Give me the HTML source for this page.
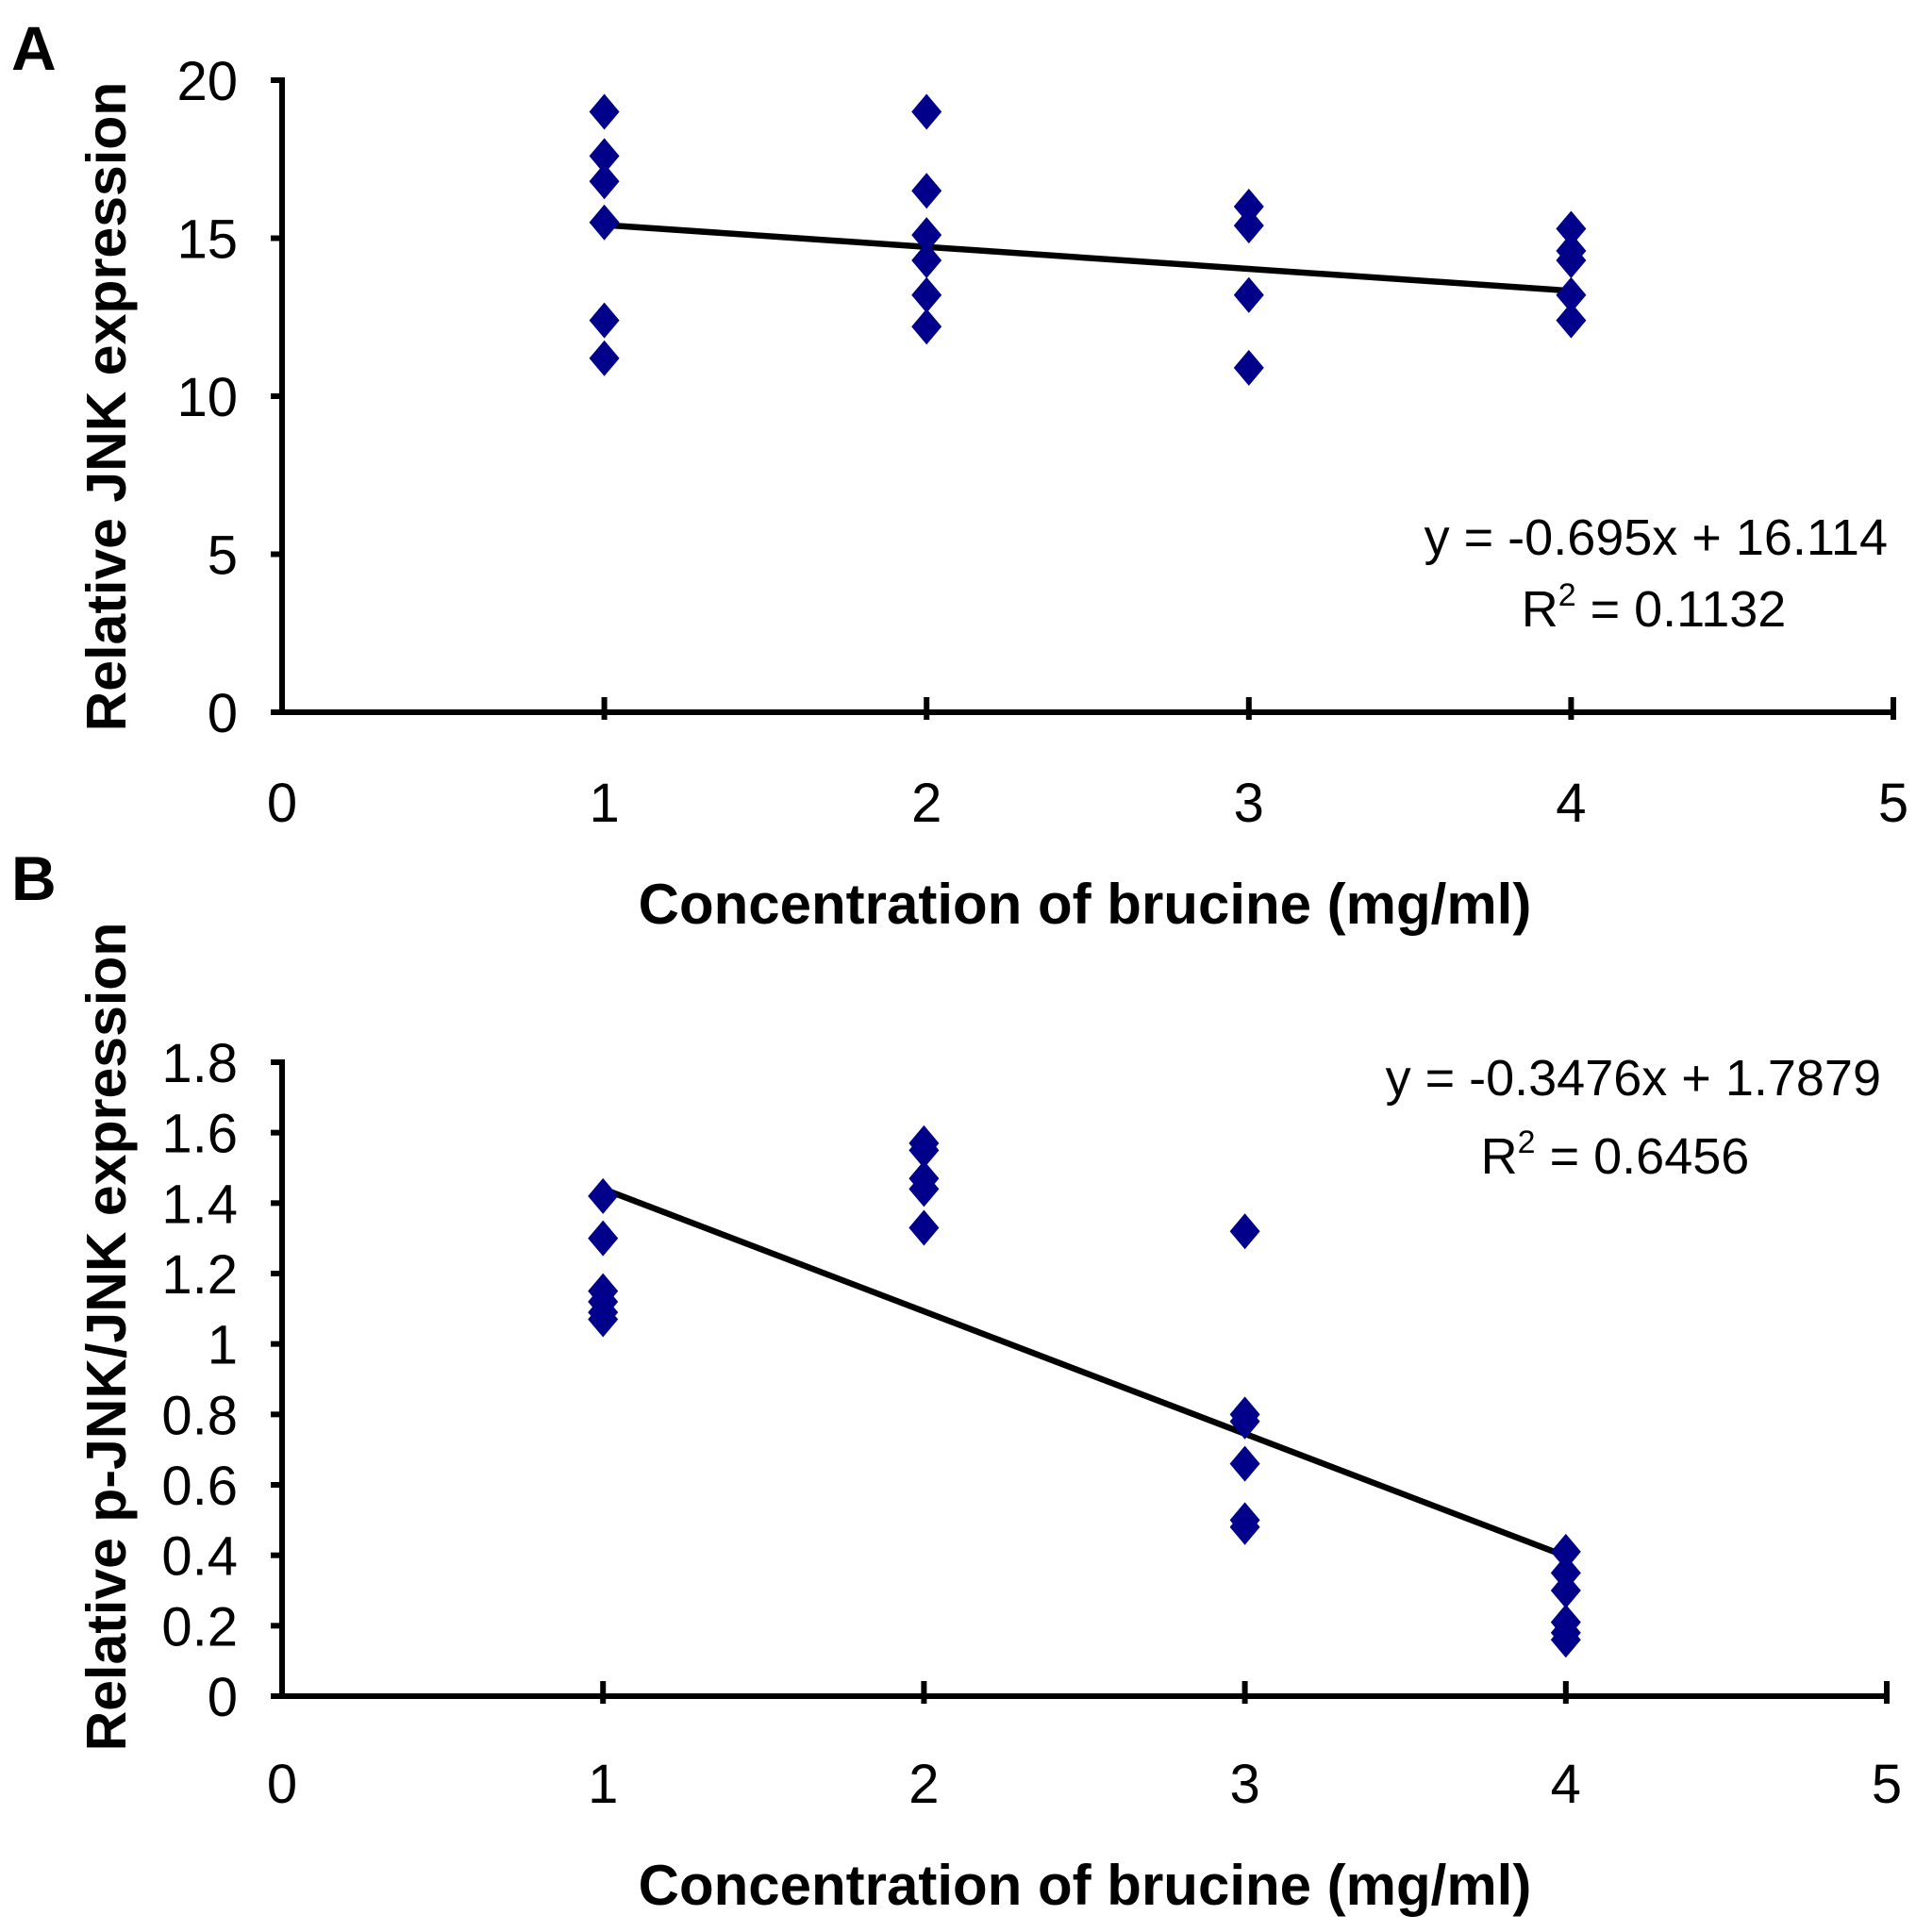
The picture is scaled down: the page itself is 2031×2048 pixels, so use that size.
<!DOCTYPE html>
<html><head><meta charset="utf-8"><style>
html,body{margin:0;padding:0;background:#fff;}
svg{display:block;font-family:"Liberation Sans",Arial,sans-serif;}
</style></head><body>
<svg id="chart" width="2031" height="2048" viewBox="0 0 2031 2048" xmlns="http://www.w3.org/2000/svg">
<text x="12" y="74" font-size="66" font-weight="bold">A</text>
<text x="12" y="954" font-size="66" font-weight="bold">B</text>
<g id="pa"></g>
<g id="pb"></g>
</svg>
<script>
const xTicks = [0,1,2,3,4,5];
const aXs = [1,1,1,1,1,1, 2,2,2,2,2,2, 3,3,3,3, 4,4,4,4,4];
const aYs = [19.0,17.6,16.8,15.5,12.4,11.2, 19.0,16.5,15.1,14.3,13.2,12.2, 16.0,15.4,13.2,10.9, 15.3,14.6,14.3,13.2,12.4];
const aYTicks = [0,5,10,15,20];
const aYTickLabels = ["0","5","10","15","20"];
const aTrend = [-0.695, 16.114];
const bXs = [1,1,1,1,1,1, 2,2,2,2,2, 3,3,3,3,3,3, 4,4,4,4,4,4];
const bYs = [1.42,1.30,1.15,1.12,1.09,1.07, 1.57,1.55,1.47,1.44,1.33, 1.32,0.80,0.78,0.66,0.50,0.48, 0.41,0.35,0.30,0.21,0.18,0.16];
const bYTicks = [0,0.2,0.4,0.6,0.8,1,1.2,1.4,1.6,1.8];
const bYTickLabels = ["0","0.2","0.4","0.6","0.8","1","1.2","1.4","1.6","1.8"];
const bTrend = [-0.3476, 1.7879];

const NS="http://www.w3.org/2000/svg";
function mk(parent,tag,attrs,text){const e=document.createElementNS(NS,tag);for(const k in attrs)e.setAttribute(k,attrs[k]);if(text!==undefined)e.textContent=text;parent.appendChild(e);return e;}

function drawPanel(g,cfg){
  const X=v=>cfg.x0+(v-0)/5*(cfg.x5-cfg.x0);
  const Y=v=>cfg.yb-(v/cfg.ymax)*(cfg.yb-cfg.yt);
  let e=mk(g,'line',{x1:X(0),y1:cfg.yt-3,x2:X(0),y2:cfg.yb,stroke:'#000','stroke-width':6});
  
  
  e=mk(g,'line',{x1:X(0)-3,y1:cfg.yb,x2:X(5)+3,y2:cfg.yb,stroke:'#000','stroke-width':6});
  
  
  cfg.yTicks.forEach((v,i)=>{
    const t=mk(g,'line',{x1:X(0)-12,y1:Y(v),x2:X(0),y2:Y(v),stroke:'#000','stroke-width':6});
    
    
    const l=mk(g,'text',{x:252,y:Y(v)+21,'font-size':58,'text-anchor':'end'},cfg.yLabels[i]);
    
    
  });
  xTicks.forEach(v=>{
    if(v>0){const t=mk(g,'line',{x1:X(v),y1:cfg.yb-16,x2:X(v),y2:cfg.yb+8,stroke:'#000','stroke-width':6});
    
    }
    const l=mk(g,'text',{x:X(v),y:cfg.xly,'font-size':58,'text-anchor':'middle'},String(v));
    
    
  });
  const tl=mk(g,'line',{x1:X(1),y1:Y(cfg.trend[0]*1+cfg.trend[1]),x2:X(4),y2:Y(cfg.trend[0]*4+cfg.trend[1]),stroke:'#000','stroke-width':6.5});
  
  
  cfg.xs.forEach((xv,i)=>{
    const cx=X(xv),cy=Y(cfg.ys[i]);
    const p=mk(g,'polygon',{points:`${cx},${cy-19} ${cx+16},${cy} ${cx},${cy+19} ${cx-16},${cy}`,fill:'#00008B'});
    
    
  });
  const xt=mk(g,'text',{x:1150,y:cfg.xty,'font-size':60,'font-weight':'bold','text-anchor':'middle'},'Concentration of brucine (mg/ml)');
  
  
  const yt=mk(g,'text',{x:0,y:0,'font-size':59,'font-weight':'bold','text-anchor':'middle',transform:`translate(133,${cfg.ytc}) rotate(-90)`},cfg.ytitle);
  
  
  const eq=mk(g,'text',{x:cfg.eqx,y:cfg.eqy,'font-size':54,'text-anchor':'end'},cfg.eq);
  
  
  const r=mk(g,'text',{x:cfg.rx,y:cfg.ry,'font-size':54,'text-anchor':'middle'});
  
  
  r.innerHTML='R<tspan dy="-22" font-size="34">2</tspan><tspan dy="22"> = '+cfg.r2+'</tspan>';
}
drawPanel(document.getElementById('pa'),{x0:299,x5:2007,yt:85,yb:755,ymax:20,yTicks:aYTicks,yLabels:aYTickLabels,xs:aXs,ys:aYs,trend:aTrend,xly:871,xty:979,ytc:431,ytitle:'Relative JNK expression',eq:'y = -0.695x + 16.114',eqx:2001,eqy:588,rx:1753,ry:664,r2:'0.1132'});
drawPanel(document.getElementById('pb'),{x0:299,x5:2000,yt:1126,yb:1798,ymax:1.8,yTicks:bYTicks,yLabels:bYTickLabels,xs:bXs,ys:bYs,trend:bTrend,xly:1911,xty:2019,ytc:1417,ytitle:'Relative p-JNK/JNK expression',eq:'y = -0.3476x + 1.7879',eqx:1994,eqy:1161,rx:1712,ry:1244,r2:'0.6456'});
</script>
</body></html>
